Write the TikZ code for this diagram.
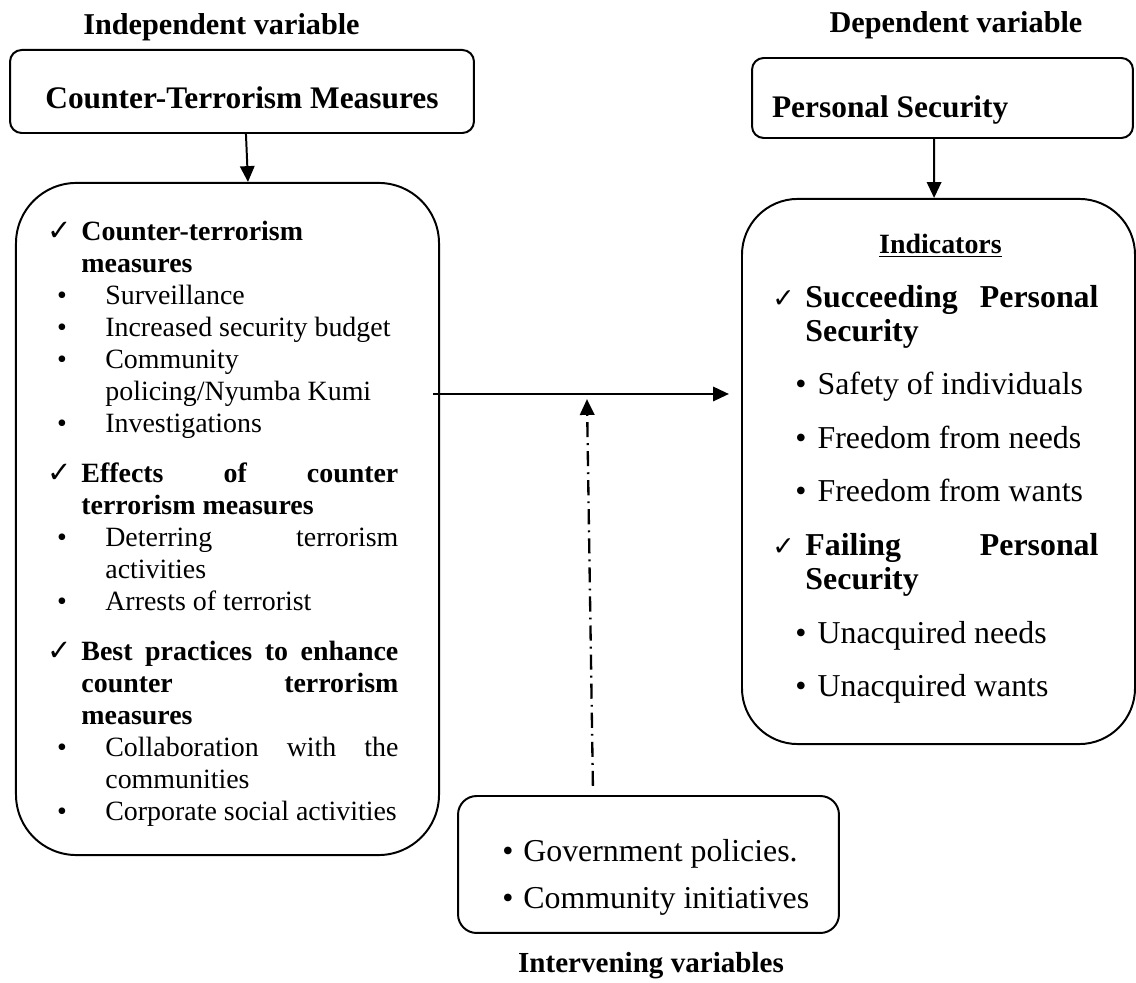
\documentclass[tikz,border=0pt]{standalone}
\usepackage{fontspec}
\setmainfont{Liberation Serif}
\newfontfamily\tickfont{DejaVu Sans}
\usetikzlibrary{arrows.meta,positioning,calc}

% markers for the list lines (L = left box, R = right box, I = bottom box)
\newcommand{\tickL}{{\tickfont\fontsize{12.5}{12.5}\selectfont ✓}}
\newcommand{\tickR}{{\tickfont\fontsize{11.5}{11.5}\selectfont ✓}}
\newcommand{\jst}[2]{\makebox[#1][s]{#2}}
\newcommand{\ckL}{\strut\makebox[14.6pt][l]{\tickL}}
\newcommand{\skL}{\strut\hspace*{14.6pt}}
\newcommand{\buL}{\strut\hspace*{4.2pt}\makebox[20.7pt][l]{\textbullet}}
\newcommand{\sbL}{\strut\hspace*{24.9pt}}
\newcommand{\ckR}{\strut\makebox[14.2pt][l]{\tickR}}
\newcommand{\skR}{\strut\hspace*{14.2pt}}
\newcommand{\buR}{\strut\hspace*{9.9pt}\makebox[9.5pt][l]{\textbullet}}
\newcommand{\buI}{\strut\makebox[9pt][l]{\textbullet}}

\begin{document}
\begin{tikzpicture}[
    x=0.43pt, y=-0.43pt,
    >={Triangle[length=6.8pt,width=6.2pt]},
    arr/.style={->,line width=0.85pt},
    dashdot/.style={->,line width=1pt,
        dash pattern=on 6.5pt off 2.6pt on 0.8pt off 2.6pt},
    title/.style={font=\bfseries\fontsize{13}{15}\selectfont,
        anchor=base, inner sep=0pt},
    headbox/.style={draw, line width=0.85pt, rounded corners=5pt,
        font=\bfseries\fontsize{13.5}{16}\selectfont, inner sep=0pt,
        text depth=0pt},
    bigbox/.style={draw, line width=0.85pt, rounded corners=26pt},
    listtext/.style={anchor=north west, inner sep=0pt, align=left},
]
\useasboundingbox (0,0) rectangle (1136,983);

% ============================================================
% TITLES
% ============================================================
\node[title] (indtitle) at (221.5,35) {Independent variable};
\node[title] (deptitle) at (956,33) {Dependent variable};
\node[title, font=\bfseries\fontsize{12.5}{15}\selectfont]
    (inttitle) at (651,973) {Intervening variables};

% ============================================================
% HEAD BOXES
% ============================================================
\node[headbox, minimum width=199.5pt, minimum height=35.7pt,
    text height=14.2pt] (ctmbox) at (242,91.5) {Counter-Terrorism Measures};
\node[headbox, minimum width=163.8pt, minimum height=34.4pt,
    text height=17.2pt] (psbox) at (942.5,98)
    {\makebox[146.6pt][l]{Personal Security}};

% ============================================================
% MAIN BOXES
% ============================================================
\node[bigbox, minimum width=181.9pt, minimum height=289pt] (ivbox) at (227.5,519) {};
\node[bigbox, minimum width=169pt, minimum height=234.4pt,
    rounded corners=24pt] (dvbox) at (938.5,471.5) {};
\node[bigbox, minimum width=163.8pt, minimum height=58.9pt,
    rounded corners=8pt] (intbox) at (648.5,864.5) {};

% left box list
\node[listtext, font=\fontsize{12}{13.76}\selectfont] (ivlist) at (47,217.6) {
    \ckL\textbf{Counter-terrorism}\\
    \skL\textbf{measures}\\
    \buL Surveillance\\
    \buL Increased security budget\\
    \buL Community\\
    \sbL policing/Nyumba Kumi\\
    \buL Investigations\\[7.74pt]
    \ckL\jst{136.3pt}{\textbf{Effects of counter}}\\
    \skL\textbf{terrorism measures}\\
    \buL\jst{126pt}{Deterring terrorism}\\
    \sbL activities\\
    \buL Arrests of terrorist\\[7.74pt]
    \ckL\jst{136.3pt}{\textbf{Best practices to enhance}}\\
    \skL\jst{136.3pt}{\textbf{counter terrorism}}\\
    \skL\textbf{measures}\\
    \buL\jst{126pt}{Collaboration with the}\\
    \sbL communities\\
    \buL Corporate social activities
};

% right box list
\node[listtext, font=\fontsize{13.7}{14.6}\selectfont] (dvlist) at (772,229.2) {
    \makebox[144.5pt][c]{\strut\fontsize{12}{14.6}\selectfont
        \textbf{\underline{Indicators}}}\\[8.47pt]
    \ckR\jst{126pt}{\textbf{Succeeding Personal}}\\
    \skR\textbf{Security}\\[8.47pt]
    \buR Safety of individuals\\[8.47pt]
    \buR Freedom from needs\\[8.47pt]
    \buR Freedom from wants\\[8.47pt]
    \ckR\jst{126pt}{\textbf{Failing Personal}}\\
    \skR\textbf{Security}\\[8.47pt]
    \buR Unacquired needs\\[8.47pt]
    \buR Unacquired wants
};

% bottom box list
\node[listtext, font=\fontsize{13.7}{20.2}\selectfont] (intlist) at (502,828.1) {
    \buI Government policies.\\
    \buI Community initiatives
};

% ============================================================
% CONNECTORS
% ============================================================
\draw[arr] ([xshift=1.7pt]ctmbox.south) -- ([xshift=8.8pt]ivbox.north);
\draw[arr] ([xshift=-3.6pt]psbox.south) -- ([xshift=-1.9pt]dvbox.north);

\coordinate (ivout) at ([xshift=-3pt,yshift=53.75pt]ivbox.east);
\coordinate (hit) at ([xshift=66.2pt,yshift=-2.2pt]ivout);
\draw[arr, shorten >=5.2pt] (ivout) -- (ivout -| dvbox.west);
\draw[dashdot] ([xshift=-23.9pt,yshift=3.9pt]intbox.north) -- (hit);

\end{tikzpicture}
\end{document}
